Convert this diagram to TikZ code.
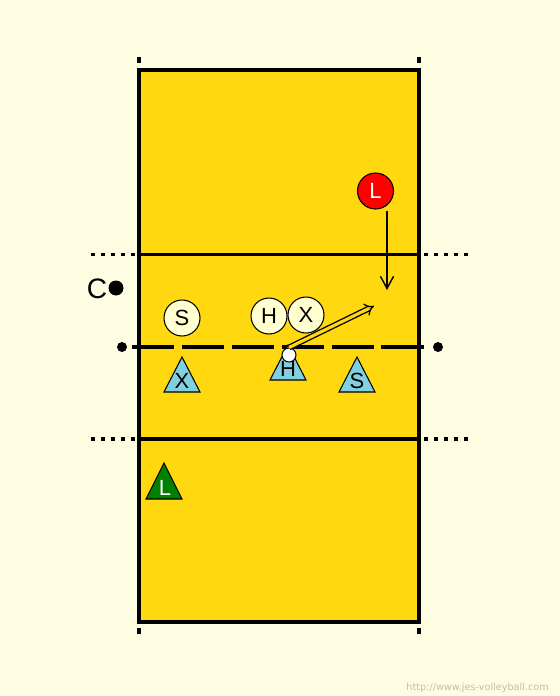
\documentclass[tikz,border=0pt]{standalone}
\usepackage{fontspec}
\setmainfont{Liberation Sans}
\newfontfamily\webfont{DejaVu Sans}
\usetikzlibrary{arrows.meta}
\definecolor{bgcream}{HTML}{FFFDE1}
\definecolor{courtyellow}{HTML}{FFD80F}
\definecolor{playercream}{HTML}{FFFFCF}
\definecolor{teamblue}{HTML}{80D0E0}
\definecolor{teamgreen}{HTML}{008000}
\definecolor{markgray}{HTML}{BDBDB0}
\begin{document}
\begin{tikzpicture}[x=0.02cm, y=-0.02cm, >=Stealth]
        \tikzset{courtline/.style={line width=2pt},
                 dotline/.style={line width=2.2pt, dash pattern=on 2.3pt off 3.4pt},
                 netline/.style={line width=2.8pt, dash pattern=on 24pt off 4.4pt},
                 player/.style={circle, draw, line width=0.6pt, fill=playercream, minimum size=0.72cm, inner sep=0pt, font=\fontsize{12.5}{14}\selectfont},
                 tri/.style={draw, line width=0.6pt, fill=teamblue, line join=miter},
                 tritext/.style={inner sep=0pt, font=\fontsize{12.5}{14}\selectfont},
                 dot/.style={circle, fill=black, minimum size=0.2cm, inner sep=0pt}}
        \fill[bgcream] (0,0) rectangle (560,696);
        \useasboundingbox (0,0) rectangle (560,696);
        % court, lines and ticks
        \draw[courtline, fill=courtyellow] (139,70) rectangle (419,622);
        \draw[courtline] (139,254.5) -- (419,254.5);
        \draw[courtline] (139,439) -- (419,439);
        \draw[dotline] (91,254.5) -- (135,254.5);
        \draw[dotline] (424,254.5) -- (468,254.5);
        \draw[dotline] (91,439) -- (135,439);
        \draw[dotline] (424,439) -- (468,439);
        \foreach \x in {139,419} {
            \draw[line width=2pt] (\x,57) -- (\x,63.5);
            \draw[line width=2pt] (\x,627.5) -- (\x,634);
        }
        % net
        \node[dot] (netL) at (122,347) {};
        \node[dot] (netR) at (438,347) {};
        \coordinate (netA) at (132,347);
        \coordinate (netB) at (427,347);
        \draw[netline] (netA) -- (netB);
        % coach
        \node[font=\fontsize{16}{18}\selectfont, inner sep=0pt] (coach) at (97,288.5) {C};
        \node[circle, fill=black, minimum size=0.3cm, inner sep=0pt] (cdot) at (116,288) {};
        % players
        \node[player] (pS) at (182,318) {S};
        \node[player] (pH) at (269,316) {H};
        \node[player] (pX) at (306,315) {X};
        \node[player, fill=red, text=white] (pL) at (375.5,191) {L};
        \foreach \x/\y/\name/\lbl in {182/392/tX/X, 288/380/tH/H, 357/392/tS/S} {
            \draw[tri] (\x,\y) -- ++(18,0) -- ++(-18,-35) -- ++(-18,35) -- cycle;
            \node[tritext] (\name) at (\x,\y-11) {\lbl};
        }
        \draw[tri, fill=teamgreen] (164,499) -- ++(18,0) -- ++(-18,-36) -- ++(-18,36) -- cycle;
        \node[tritext, text=white] (tL) at (165,487.5) {L};
        % moves
        \coordinate (lStart) at (387,211);
        \coordinate (lEnd) at (387,290);
        \draw[line width=0.8pt, -{Straight Barb[length=7pt, width=7.5pt]}] (lStart) -- (lEnd);
        \node[circle, draw, line width=0.6pt, fill=white, minimum size=0.28cm, inner sep=0pt] (ball) at (289,355) {};
        \coordinate (hit) at (374,306);
        \draw[double=courtyellow, double distance=1.8pt, line width=0.75pt, -{Implies}] (ball.north) -- (hit);
        \node[anchor=east, text=markgray, font=\webfont\fontsize{5.5}{6}\selectfont, inner sep=0pt] (site) at (549,688) {http://www.jes-volleyball.com};
    \end{tikzpicture}
\end{document}
